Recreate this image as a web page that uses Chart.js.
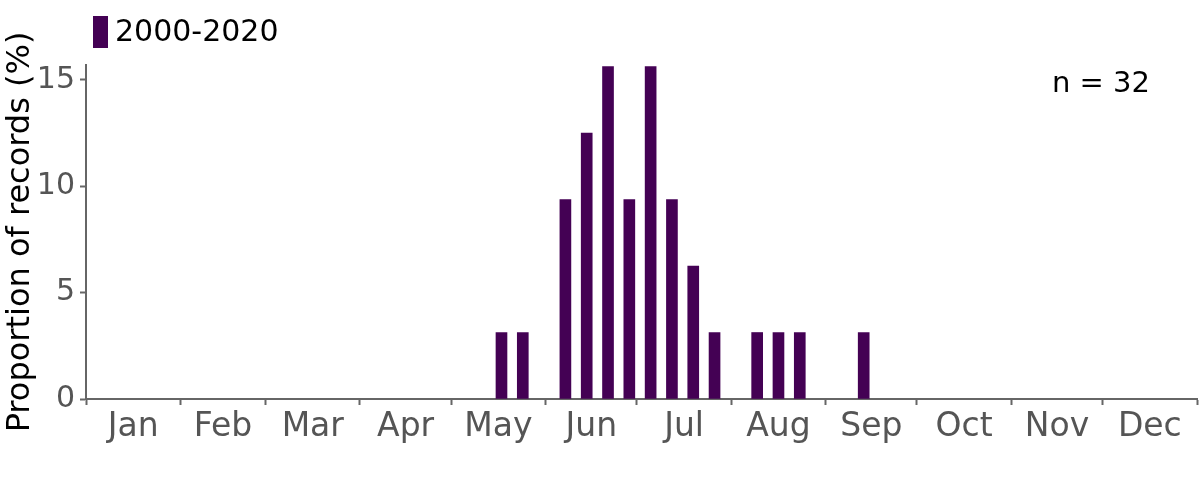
<!DOCTYPE html>
<html>
<head>
<meta charset="utf-8">
<script src="https://cdn.jsdelivr.net/npm/chart.js@4/dist/chart.umd.min.js"></script>
<style>
  html, body { margin: 0; padding: 0; background: #fff; }
  #wrap { width: 1200px; height: 480px; }
</style>
</head>
<body>
<div id="wrap"><canvas id="recordsChart" width="1200" height="480"></canvas></div>
<script>
// Weekly share of records (%), week 1..52, n = 32
const weeklyProportion = [
    0, 0, 0, 0, 0, 0, 0, 0, 0, 0, 0, 0, 0,
    0, 0, 0, 0, 0, 0, 3.125, 3.125, 0, 9.375, 12.5, 15.625, 9.375,
    15.625, 9.375, 6.25, 3.125, 0, 3.125, 3.125, 3.125, 0, 0, 3.125, 0, 0,
    0, 0, 0, 0, 0, 0, 0, 0, 0, 0, 0, 0, 0
];
const monthLabels = ['Jan', 'Feb', 'Mar', 'Apr', 'May', 'Jun', 'Jul', 'Aug', 'Sep', 'Oct', 'Nov', 'Dec'];
const monthStartDays = [0, 31, 59, 90, 120, 151, 181, 212, 243, 273, 304, 334, 365];
const yTicks = [0, 5, 10, 15];
const seriesLabel = '2000-2020';
const sampleSize = 32;

const BAR_COLOR = '#440154';
const AXIS_COLOR = '#666666';
const FONT = 'Tahoma, "DejaVu Sans", sans-serif';

// bar centred in the middle of its 7-day week
const points = weeklyProportion.map((v, i) => ({ x: i * 7 + 3.5, y: v }));

// month midpoints carry the labels, month boundaries carry the tick marks
const monthMids = monthLabels.map((_, i) => (monthStartDays[i] + monthStartDays[i + 1]) / 2);

const legendAndNote = {
    id: 'legendAndNote',
    afterDraw(chart) {
        const ctx = chart.ctx;
        ctx.save();
        ctx.fillStyle = BAR_COLOR;
        ctx.fillRect(93, 16, 15, 32);
        ctx.fillStyle = '#000';
        ctx.font = '30px ' + FONT;
        ctx.textBaseline = 'middle';
        ctx.textAlign = 'left';
        ctx.fillText(seriesLabel, 115, 33);
        ctx.font = '29px ' + FONT;
        ctx.textAlign = 'center';
        ctx.fillText('n = ' + sampleSize, 1101, 84);
        ctx.restore();
    }
};

new Chart(document.getElementById('recordsChart').getContext('2d'), {
    type: 'bar',
    data: {
        datasets: [{
            label: seriesLabel,
            data: points,
            // empty weeks get no visible sliver on the axis
            backgroundColor: ctx => (ctx.raw && ctx.raw.y > 0) ? BAR_COLOR : 'rgba(0,0,0,0)',
            barThickness: 11
        }]
    },
    options: {
        responsive: false,
        animation: false,
        layout: { padding: { top: 65, right: 3, left: 0, bottom: 0 } },
        plugins: {
            legend: { display: false },
            tooltip: { enabled: false }
        },
        scales: {
            x: {
                type: 'linear',
                min: 0,
                max: 365,
                offset: false,
                afterBuildTicks: scale => {
                    const all = monthStartDays.concat(monthMids).sort((a, b) => a - b);
                    scale.ticks = all.map(v => ({ value: v }));
                },
                afterFit: scale => { scale.height = 81; },
                grid: {
                    offset: false,
                    drawOnChartArea: false,
                    drawTicks: true,
                    tickLength: 6,
                    tickWidth: 2,
                    tickColor: ctx => monthStartDays.includes(ctx.tick.value) ? AXIS_COLOR : 'rgba(0,0,0,0)'
                },
                border: { color: AXIS_COLOR, width: 2 },
                ticks: {
                    autoSkip: false,
                    maxRotation: 0,
                    padding: 3,
                    color: '#555555',
                    font: { family: FONT, size: 33 },
                    callback: value => {
                        const i = monthMids.indexOf(value);
                        return i >= 0 ? monthLabels[i] : '';
                    }
                }
            },
            y: {
                min: 0,
                max: 15.7,
                afterBuildTicks: scale => { scale.ticks = yTicks.map(v => ({ value: v })); },
                afterFit: scale => { scale.width = 86; },
                grid: {
                    drawOnChartArea: false,
                    drawTicks: true,
                    tickLength: 6,
                    tickWidth: 2,
                    tickColor: AXIS_COLOR
                },
                border: { color: AXIS_COLOR, width: 2 },
                ticks: {
                    padding: 5,
                    color: '#555555',
                    font: { family: FONT, size: 30 }
                },
                title: {
                    display: true,
                    text: 'Proportion of records (%)',
                    color: '#000',
                    padding: { top: 1, bottom: 0 },
                    font: { family: FONT, size: 32 }
                }
            }
        }
    },
    plugins: [legendAndNote]
});
</script>
</body>
</html>
